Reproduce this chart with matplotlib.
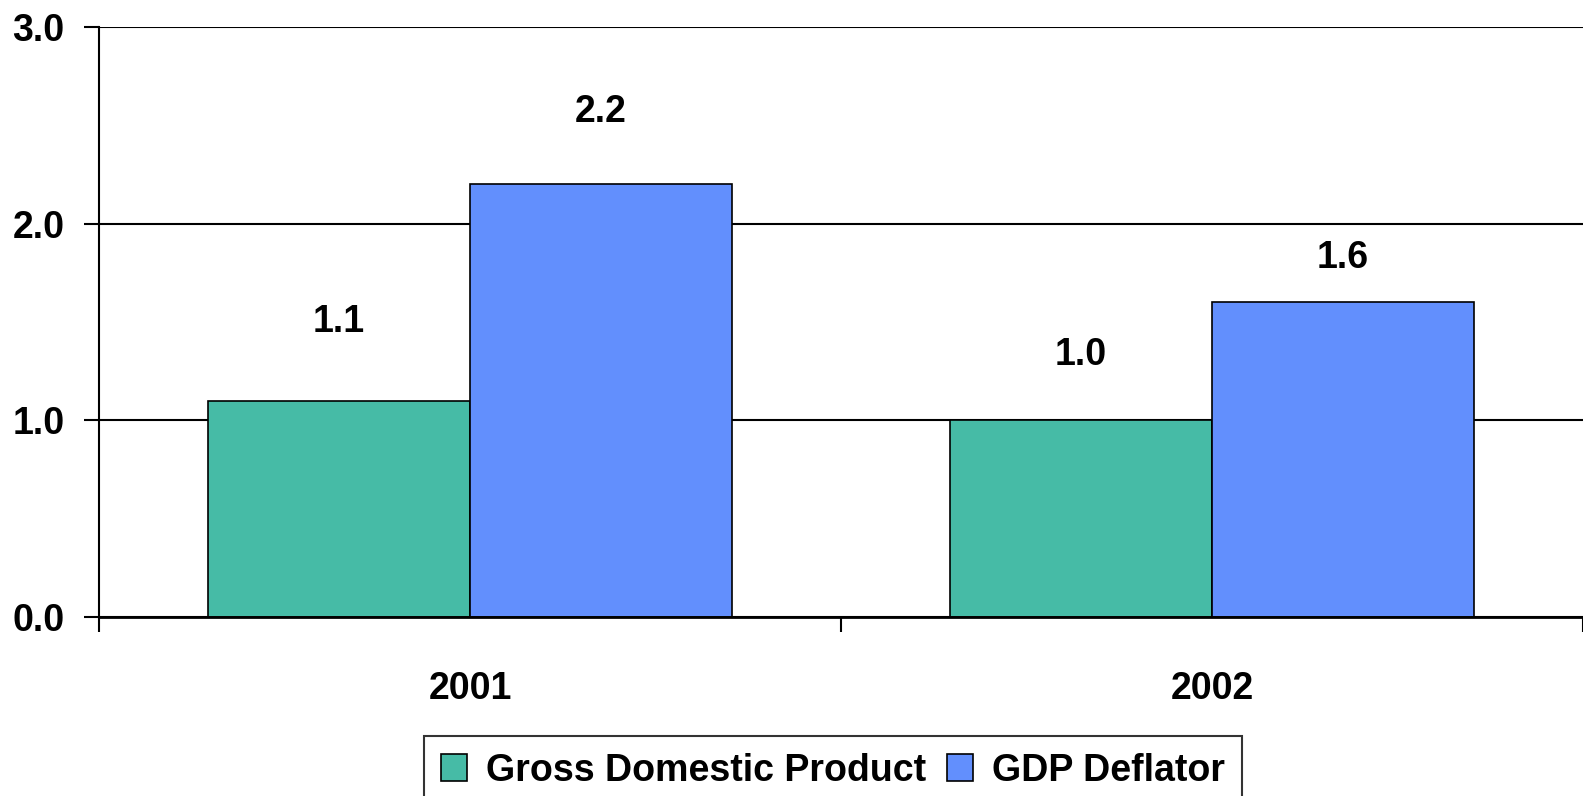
import matplotlib
matplotlib.use("Agg")
import matplotlib.pyplot as plt
from matplotlib import font_manager
import numpy as np

categories = ["2001", "2002"]
series_names = ["Gross Domestic Product", "GDP Deflator"]
gdp = [1.1, 1.0]
deflator = [2.2, 1.6]
yticks = [0.0, 1.0, 2.0, 3.0]

# label offsets above bar tops (points) - layout only
gdp_label_off = [57, 47]
defl_label_off = [52, 32]

names = {f.name for f in font_manager.fontManager.ttflist}
fam = "Liberation Sans Narrow" if "Liberation Sans Narrow" in names else "Liberation Sans"
plt.rcParams['font.family'] = [fam, 'DejaVu Sans']
plt.rcParams['font.weight'] = 'bold'

fig = plt.figure(figsize=(15.83, 7.96), dpi=100)
ax = fig.add_axes([99/1583, 1-617/796, 1-99/1583, (617-27)/796])

x = np.arange(len(categories))
w = 0.353
colors = ["#46BBA6", "#628FFD"]
b1 = ax.bar(x - w/2, gdp, w, color=colors[0], edgecolor="black", linewidth=1.2, zorder=3, label=series_names[0])
b2 = ax.bar(x + w/2, deflator, w, color=colors[1], edgecolor="black", linewidth=1.2, zorder=3, label=series_names[1])

for bars, vals, offs in ((b1, gdp, gdp_label_off), (b2, deflator, defl_label_off)):
    for r, v, o in zip(bars, vals, offs):
        ax.annotate(f"{v:.1f}", (r.get_x() + r.get_width()/2, v), xytext=(0, o),
                    textcoords="offset points", ha="center", va="center",
                    fontsize=27, fontweight="bold")

ax.set_xlim(-0.5, 1.5)
ax.set_ylim(0, 3.0)
ax.set_yticks(yticks)
ax.set_yticklabels([f"{t:.1f}" for t in yticks], fontsize=27, fontweight="bold")
ax.yaxis.grid(True, color="black", linewidth=1.5, zorder=0)
ax.set_axisbelow(True)
ax.set_xticks([-0.5, 0.5, 1.5])
ax.set_xticklabels(["", "", ""])
ax.tick_params(axis="y", length=11, width=1.5, pad=14, direction="out")
ax.tick_params(axis="x", length=11, width=1.5, direction="out")
for i, c in enumerate(categories):
    ax.text(i, -0.365, c, ha="center", va="center", fontsize=27, fontweight="bold",
            transform=ax.transData)

for s in ["top", "right"]:
    ax.spines[s].set_visible(False)
ax.spines["left"].set_linewidth(1.5)
ax.spines["bottom"].set_linewidth(2)
ax.spines["bottom"].set_zorder(4)

leg = fig.legend(handles=[b1, b2], labels=series_names, loc="lower center",
                 bbox_to_anchor=(833/1583, -0.012), ncol=2, frameon=True, fancybox=False,
                 edgecolor="black", prop={"weight": "bold", "size": 27},
                 handlelength=0.7, handleheight=0.7, handletextpad=0.5, columnspacing=0.55,
                 borderpad=0.45, borderaxespad=0.0)
leg.get_frame().set_linewidth(1.5)

fig.savefig("out.png", dpi=100)
